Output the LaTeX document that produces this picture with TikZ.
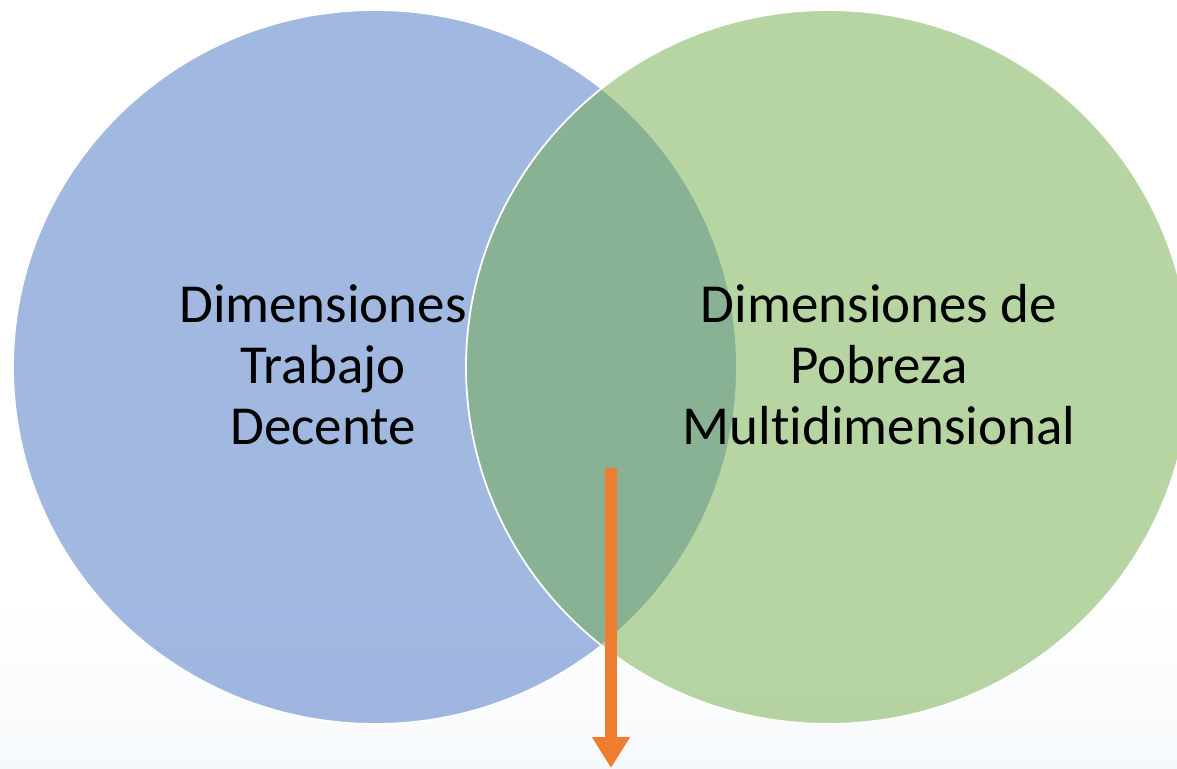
\documentclass[tikz,border=0pt]{standalone}
\usepackage{fontspec}
\setmainfont{Carlito}[Ligatures={NoCommon}]
\usetikzlibrary{arrows.meta}
\definecolor{bluec}{HTML}{4472C4}
\definecolor{greenc}{HTML}{70AD47}
\definecolor{arrowc}{HTML}{ED7D31}
\definecolor{bgfaint}{HTML}{F6F9FB}
\tikzset{
  setbubble/.style={draw=white, line width=1.8pt, fill opacity=0.5, draw opacity=1},
  biglabel/.style={align=center, font=\fontsize{55}{61}\selectfont, text=black, inner sep=0pt},
  flowarrow/.style={draw=arrowc, line width=12pt, -{Triangle[width=36pt,length=31pt]}}
}
\begin{document}
\begin{tikzpicture}[x=1pt,y=-1pt]
\useasboundingbox (0,0) rectangle (1177,768);
\fill[white] (0,0) rectangle (1177,768);
\shade[top color=white, bottom color=bgfaint] (0,600) rectangle (1177,768);
\path[setbubble, fill=bluec] (375,367) ellipse [x radius=362, y radius=357];
\path[setbubble, fill=greenc] (828,367) ellipse [x radius=362, y radius=357];
\node[biglabel] (left) at (323,365) {Dimensiones\\Trabajo\\Decente};
\node[biglabel] (right) at (879,365) {Dimensiones de\\Pobreza\\Mult\kern0pt idimensional};
\coordinate (astart) at (611,468);
\coordinate (aend) at (611,768);
\draw[flowarrow] (astart) -- (aend);
\end{tikzpicture}
\end{document}
